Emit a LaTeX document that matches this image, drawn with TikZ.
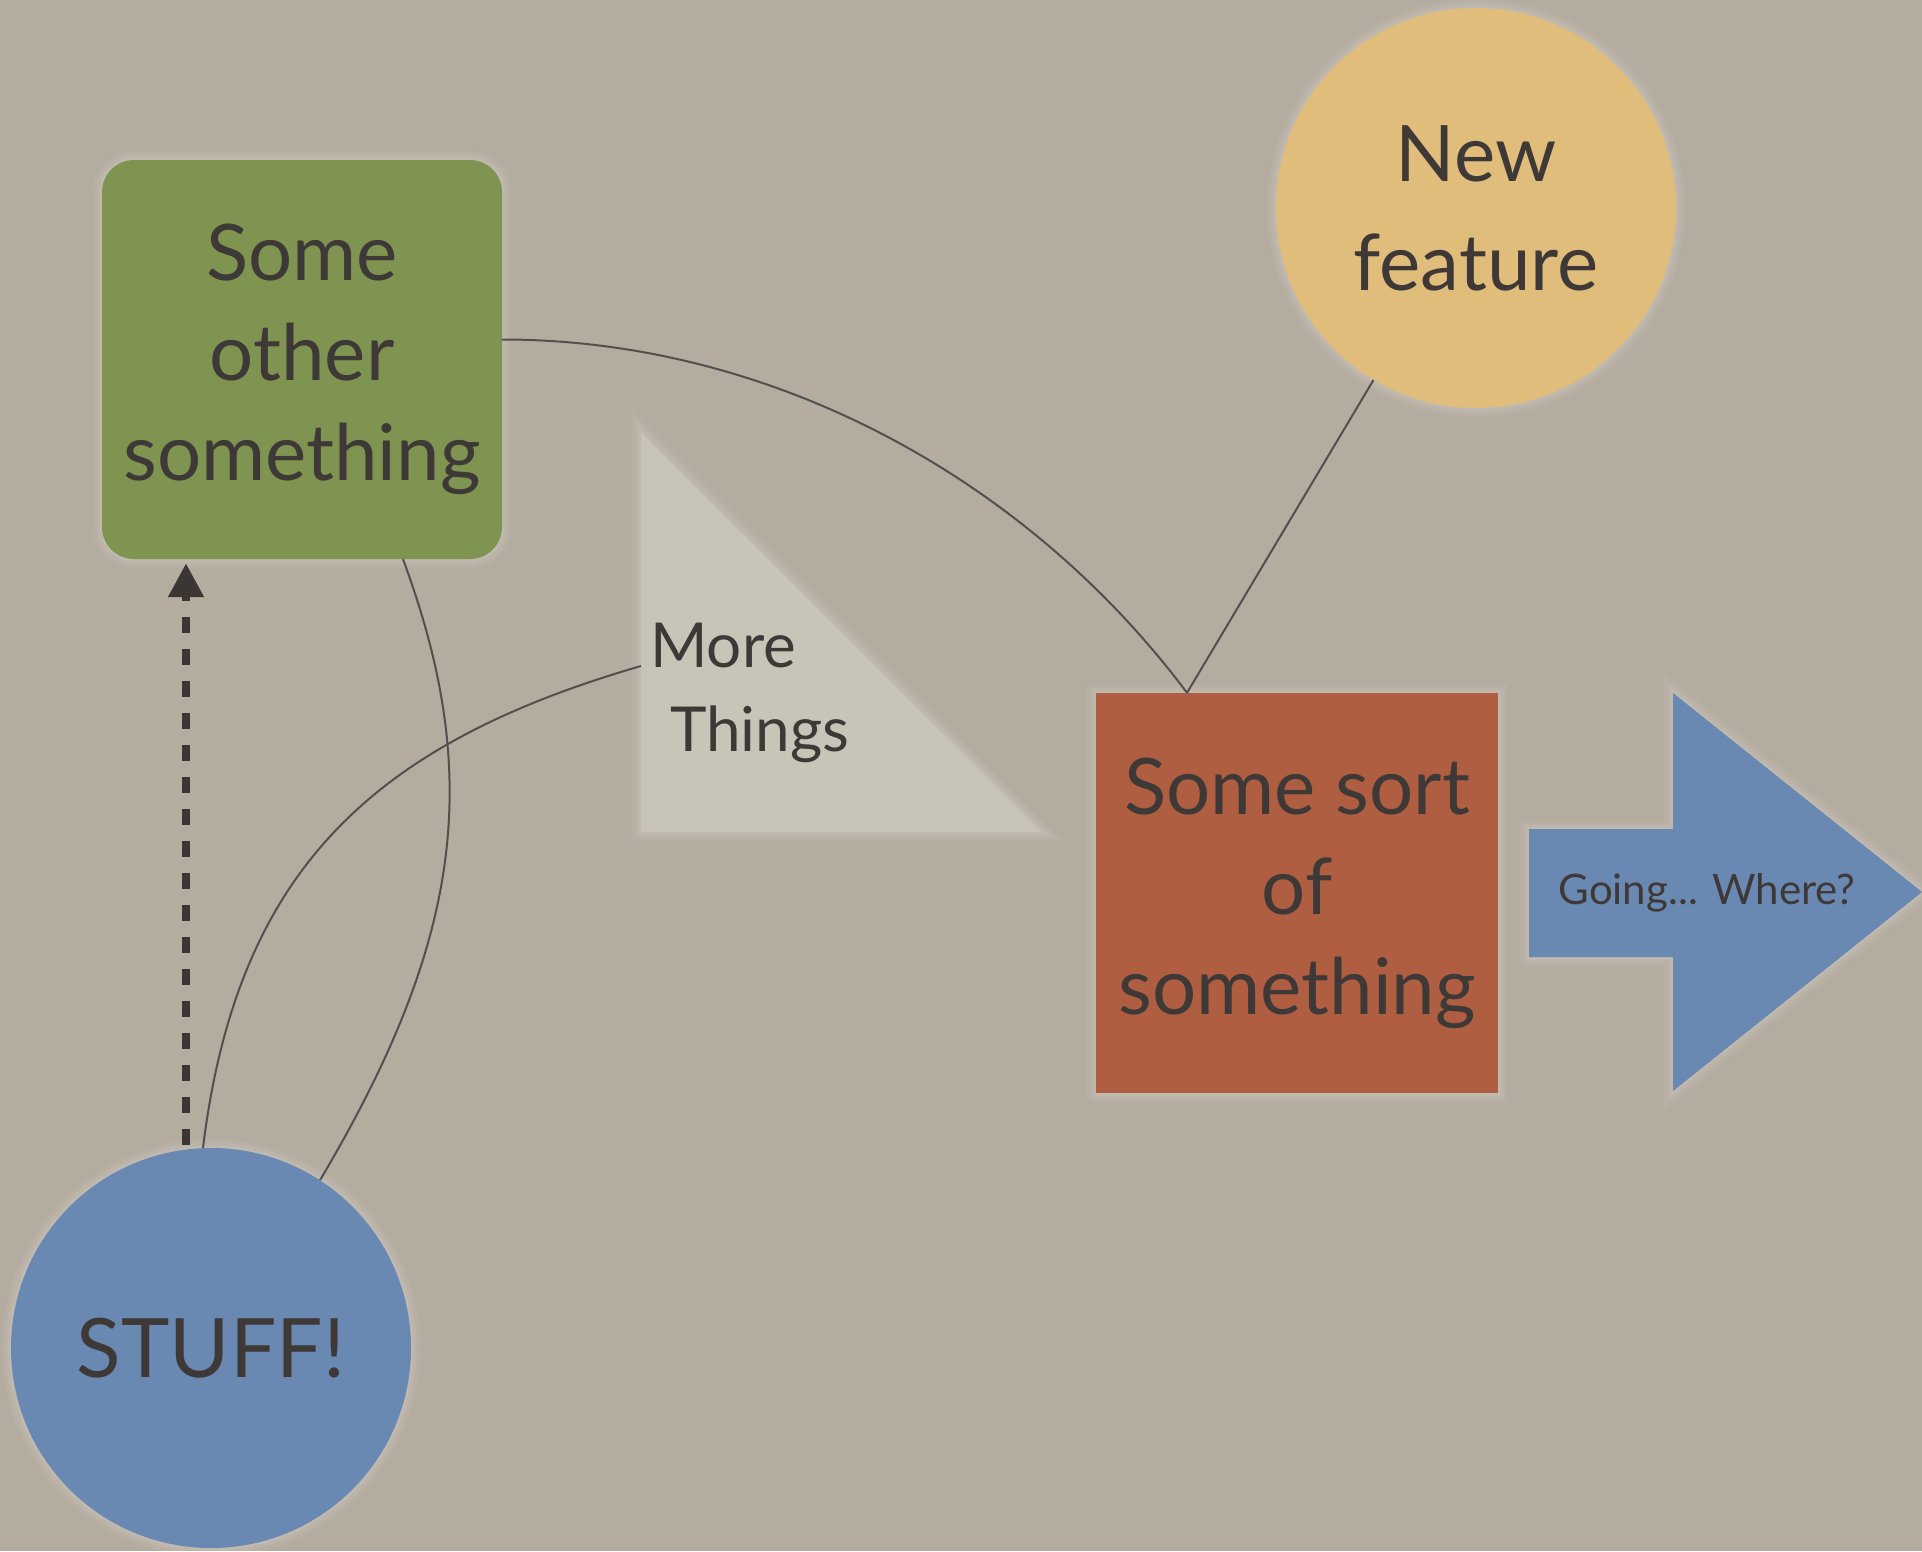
\documentclass[tikz,border=0pt]{standalone}
\usepackage{fontspec}
\setmainfont{Lato}
\usetikzlibrary{arrows.meta}
\definecolor{bg}{HTML}{B5ACA0}
\definecolor{greenc}{HTML}{7F9450}
\definecolor{yellowc}{HTML}{E0BD7B}
\definecolor{tric}{HTML}{C9C4B8}
\definecolor{redc}{HTML}{AF5E42}
\definecolor{bluec}{HTML}{6A89B2}
\definecolor{ink}{HTML}{3E3936}
\definecolor{wire}{HTML}{52504E}
\begin{document}
\begin{tikzpicture}[x=1pt,y=-1pt,
  glow/.style={preaction={draw=white,draw opacity=0.05,line width=18pt},
               preaction={draw=white,draw opacity=0.06,line width=11pt},
               preaction={draw=white,draw opacity=0.07,line width=5pt}},
  shape box/.style={glow,inner sep=0pt,text=ink,align=center},
  big text/.style={font=\fontsize{78}{100}\selectfont},
  conn/.style={draw=wire,line width=2pt},
  dashconn/.style={draw=ink!95!black,line width=8pt,dash pattern=on 16pt off 16pt,
                   -{Triangle[width=34pt,length=34pt]}}]
\fill[bg] (0,0) rectangle (1922,1551);
\useasboundingbox (0,0) rectangle (1922,1551);

% shapes
\node[shape box,big text,fill=greenc,rounded corners=32pt,
      minimum width=400pt,minimum height=399pt] (other) at (302,359.5)
      {Some\\other\\something};
\node[shape box,circle,fill=yellowc,minimum size=400pt,
      font=\fontsize{78}{109}\selectfont] (feature) at (1476,208) {New\\feature};
\path[fill=tric,glow] (641,433) -- (641,832) -- (1041,832) -- cycle;
\node[anchor=north west,inner sep=0pt,text=ink,align=left,
      font=\fontsize{62}{84}\selectfont] (more) at (650,623)
      {More\\\hspace*{20pt}Things};
\coordinate (triW) at (641,666);
\node[shape box,big text,fill=redc,minimum width=402pt,minimum height=400pt]
      (sort) at (1297,893) {Some sort\\of\\something};
\path[fill=bluec,glow] (1529,829) -- (1673,829) -- (1673,693) -- (1922,892)
      -- (1673,1091) -- (1673,957) -- (1529,957) -- cycle;
\node[inner sep=0pt,text=ink,font=\fontsize{42}{48}\selectfont] (going)
      at (1707,893) {Going... Where?};
\node[shape box,circle,fill=bluec,minimum size=400pt,
      font=\fontsize{82}{100}\selectfont] (stuff) at (211,1348) {STUFF!};

% connectors
\coordinate (sortTop) at ([xshift=-110pt]sort.north);
\draw[conn] ([yshift=20pt]other.east) .. controls +(269,0) and +(-161,-215) .. (sortTop);
\draw[conn] (feature) -- (sortTop);
\draw[conn] ([xshift=101pt]other.south) .. controls +(80,216) and +(143,-241) .. (stuff.57);
\draw[conn] (triW) .. controls +(-269,78) and +(34,-277) .. ([xshift=-8pt]stuff.north);
\draw[dashconn] ([xshift=-25pt,yshift=3pt]stuff.north) -- ([xshift=-116pt,yshift=-4pt]other.south);
\end{tikzpicture}
\end{document}
